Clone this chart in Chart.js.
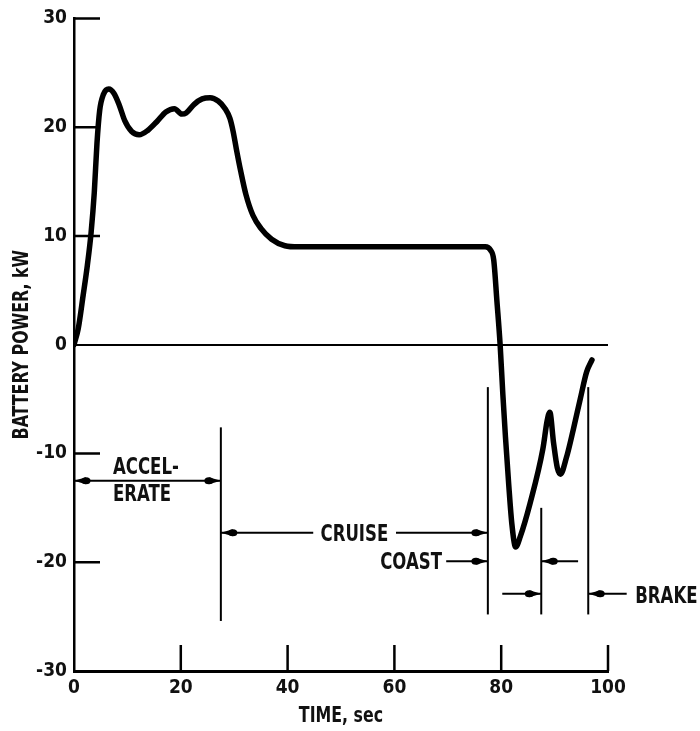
<!DOCTYPE html>
<html>
<head>
<meta charset="utf-8">
<title>Battery power</title>
<script src="https://cdn.jsdelivr.net/npm/chart.js@4.4.1/dist/chart.umd.min.js"></script>
<style>
  html, body { margin: 0; padding: 0; background: #fff; }
  #chart { display: block; }
</style>
</head>
<body>
<canvas id="chart" width="700" height="731"></canvas>
<script>
(function () {

  'use strict';

  // Time, sec.
  var timeSec = [0, 0.8, 1.7, 2.5, 3.2, 3.8, 4.3, 4.8, 5.5, 6.5, 7.5, 8.5, 9.5, 10.8, 12.2, 13.8, 15.5,
    17.2, 18.8, 20.2, 21, 22.5, 24, 25.5, 27, 28.3, 29.2, 29.8, 30.4, 31.2, 32.2, 33.5, 35, 37, 39.5,
    42, 50, 60, 70, 77, 78, 78.6, 79.2, 79.8, 80.3, 80.8, 81.4, 82, 82.7, 83.6, 85.4, 87.8, 88.6,
    89.1, 89.8, 90.5, 91.1, 92.2, 93.5, 94.8, 96, 97];

  // Battery power, kW.
  var powerKw = [0, 1.5, 4.5, 7.3, 10.3, 14, 18.5, 21.5, 23, 23.5, 23.1, 22, 20.6, 19.6, 19.3, 19.7, 20.5,
    21.4, 21.7, 21.2, 21.3, 22.1, 22.6, 22.7, 22.4, 21.7, 20.8, 19.6, 18, 16, 13.8, 11.9, 10.7, 9.7, 9.1,
    9, 9, 9, 9, 9, 8.7, 7.8, 4, 0, -4.5, -8.5, -12.8, -16.5, -18.6, -17.6, -14.6, -9.6, -7,
    -6.2, -9, -11.3, -11.9, -10.4, -7.8, -5, -2.5, -1.4];

  // Axis ticks.
  var xTicks = [0, 20, 40, 60, 80, 100];
  var yTicks = [-30, -20, -10, 0, 10, 20, 30];

  // Phase boundaries: [time, from kW, to kW].
  var phaseLines = [
    [27.5, -7.6, -25.4],
    [77.5, -3.9, -24.8],
    [87.5, -15, -24.8],
    [96.3, -3.9, -24.8]
  ];

  // Dimension arrows: [from time, to time, kW, arrowhead side].
  var phaseArrows = [
    [0, 27.5, -12.5, 'both'],
    [27.5, 44.8, -17.3, 'start'],
    [60.3, 77.5, -17.3, 'end'],
    [69.7, 77.5, -19.9, 'end'],
    [87.5, 94.4, -19.9, 'start'],
    [80.2, 87.5, -22.9, 'end'],
    [96.3, 103.5, -22.9, 'start']
  ];

  // Phase names: [text, time, kW, align].
  var phaseLabels = [
    ['ACCEL-', 7.3, -11.3, 'left'],
    ['ERATE', 7.3, -13.8, 'left'],
    ['CRUISE', 52.5, -17.5, 'center'],
    ['COAST', 68.9, -20.05, 'right'],
    ['BRAKE', 105.1, -23.2, 'left']
  ];

  var xTitle = 'TIME, sec';
  var yTitle = 'BATTERY POWER, kW';

  var FONT = "'DejaVu Sans Condensed', 'DejaVu Sans', sans-serif";
  // Old typewriter lettering is narrow; squeeze the drawn text.
  var SQUEEZE = 0.8;

  var points = timeSec.map(function (t, i) {
    return {x: t, y: powerKw[i]};
  });

  function narrowText(ctx, text, x, y, align, angle) {
    ctx.save();
    ctx.translate(x, y);
    if (angle) {
      ctx.rotate(angle);
    }
    ctx.scale(SQUEEZE, 1);
    ctx.textAlign = align;
    ctx.fillText(text, 0, 0);
    ctx.restore();
  }

  // Short ticks drawn into the plot from the axes.
  var inwardTicks = {
    id: 'inwardTicks',
    beforeDatasetsDraw: function (chart) {
      var ctx = chart.ctx;
      var area = chart.chartArea;
      var xs = chart.scales.x;
      var ys = chart.scales.y;
      ctx.save();
      ctx.strokeStyle = '#000';
      ctx.lineWidth = 2.5;
      ctx.beginPath();
      yTicks.forEach(function (v) {
        if (v === 0 || v === yTicks[0]) {
          return;
        }
        var py = ys.getPixelForValue(v);
        ctx.moveTo(area.left, py);
        ctx.lineTo(area.left + 26, py);
      });
      xTicks.forEach(function (v) {
        if (v === xTicks[0]) {
          return;
        }
        var px = xs.getPixelForValue(v);
        ctx.moveTo(px, area.bottom);
        ctx.lineTo(px, area.bottom - 26);
      });
      ctx.stroke();
      ctx.restore();
    }
  };

  function arrowHead(ctx, px, py, dir) {
    // dir: -1 points left, 1 points right.
    ctx.beginPath();
    ctx.moveTo(px, py);
    ctx.lineTo(px - dir * 12, py - 3.5);
    ctx.lineTo(px - dir * 12, py + 3.5);
    ctx.closePath();
    ctx.fill();
    ctx.beginPath();
    ctx.ellipse(px - dir * 12, py, 4.5, 3.5, 0, 0, Math.PI * 2);
    ctx.fill();
  }

  // Phase markers, arrows, names and axis titles.
  var phaseMarks = {
    id: 'phaseMarks',
    afterDatasetsDraw: function (chart) {
      var ctx = chart.ctx;
      var area = chart.chartArea;
      var xs = chart.scales.x;
      var ys = chart.scales.y;
      ctx.save();
      ctx.strokeStyle = '#000';
      ctx.fillStyle = '#000';
      ctx.lineWidth = 2;

      phaseLines.forEach(function (l) {
        var px = xs.getPixelForValue(l[0]);
        ctx.beginPath();
        ctx.moveTo(px, ys.getPixelForValue(l[1]));
        ctx.lineTo(px, ys.getPixelForValue(l[2]));
        ctx.stroke();
      });

      phaseArrows.forEach(function (a) {
        var x1 = xs.getPixelForValue(a[0]);
        var x2 = xs.getPixelForValue(a[1]);
        var py = ys.getPixelForValue(a[2]);
        ctx.beginPath();
        ctx.moveTo(x1, py);
        ctx.lineTo(x2, py);
        ctx.stroke();
        if (a[3] === 'start' || a[3] === 'both') {
          arrowHead(ctx, x1, py, -1);
        }
        if (a[3] === 'end' || a[3] === 'both') {
          arrowHead(ctx, x2, py, 1);
        }
      });

      ctx.fillStyle = '#111';
      ctx.textBaseline = 'middle';
      ctx.font = 'bold 23px ' + FONT;
      phaseLabels.forEach(function (t) {
        narrowText(ctx, t[0], xs.getPixelForValue(t[1]), ys.getPixelForValue(t[2]), t[3]);
      });

      // Axis titles.
      ctx.font = 'bold 22px ' + FONT;
      narrowText(ctx, xTitle, (area.left + area.right) / 2, xs.bottom - 15, 'center');
      narrowText(ctx, yTitle, 22, (area.top + area.bottom) / 2, 'center', -Math.PI / 2);
      ctx.restore();
    }
  };

  new Chart(document.getElementById('chart'), {
    type: 'line',
    data: {
      datasets: [{
        data: points,
        borderColor: '#000',
        borderWidth: 5.5,
        borderCapStyle: 'round',
        borderJoinStyle: 'round',
        pointRadius: 0,
        cubicInterpolationMode: 'monotone',
        fill: false
      }]
    },
    options: {
      responsive: false,
      animation: false,
      layout: {
        padding: {left: 0, right: 92, top: 18, bottom: 0}
      },
      plugins: {
        legend: {display: false},
        tooltip: {enabled: false}
      },
      scales: {
        x: {
          type: 'linear',
          min: 0,
          max: 100,
          afterFit: function (scale) {
            scale.height = 60;
          },
          afterBuildTicks: function (scale) {
            scale.ticks = xTicks.map(function (v) {
              return {value: v};
            });
          },
          grid: {display: false, drawTicks: false},
          border: {display: true, color: '#000', width: 3},
          ticks: {
            color: '#111',
            padding: 6,
            font: {family: FONT, size: 19, weight: 'bold'}
          }
        },
        y: {
          min: -30,
          max: 30,
          afterFit: function (scale) {
            scale.width = 74;
          },
          afterBuildTicks: function (scale) {
            scale.ticks = yTicks.map(function (v) {
              return {value: v};
            });
          },
          grid: {
            drawTicks: false,
            lineWidth: 2,
            color: function (c) {
              return c.tick && c.tick.value === 0 ? '#000' : 'rgba(0,0,0,0)';
            }
          },
          border: {display: true, color: '#000', width: 2.5},
          ticks: {
            color: '#111',
            padding: 7,
            font: {family: FONT, size: 19, weight: 'bold'}
          }
        }
      }
    },
    plugins: [inwardTicks, phaseMarks]
  });

})();
</script>
</body>
</html>
